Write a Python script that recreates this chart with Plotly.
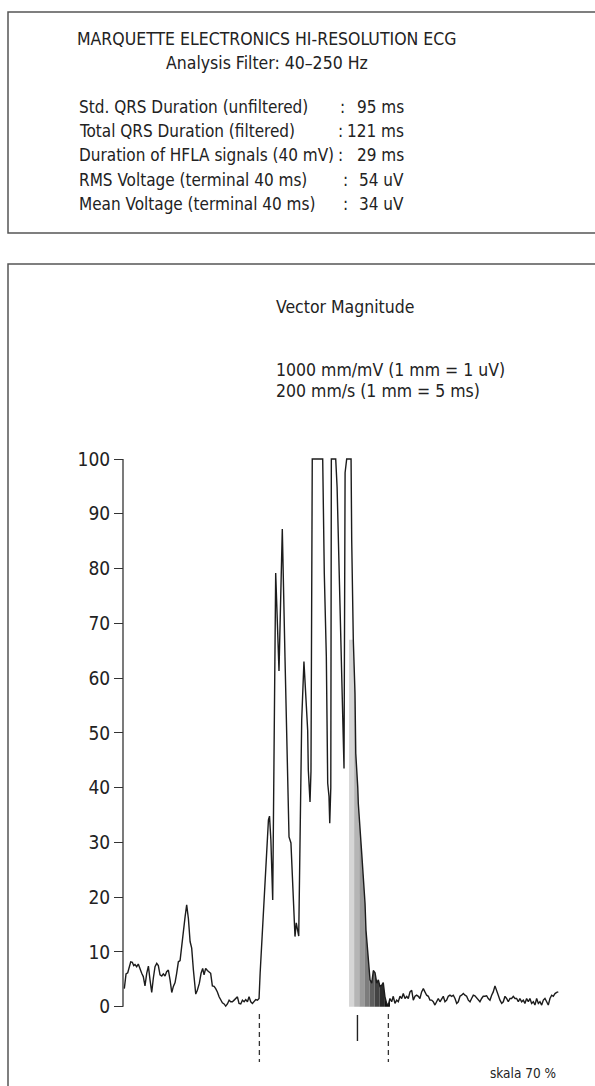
import numpy as np
import plotly.graph_objects as go

W, H = 595, 1086
FONT = "Noto Sans Condensed, DejaVu Sans Condensed, Roboto, sans-serif"

# ---------------- data ----------------
header_title = "MARQUETTE ELECTRONICS HI-RESOLUTION ECG"
header_sub = "Analysis Filter: 40–250 Hz"
stat_labels = [
    "Std. QRS Duration (unfiltered)",
    "Total QRS Duration (filtered)",
    "Duration of HFLA signals (40 mV)",
    "RMS Voltage (terminal 40 ms)",
    "Mean Voltage (terminal 40 ms)",
]
stat_values = ["95 ms", "121 ms", "29 ms", "54 uV", "34 uV"]

plot_title = "Vector Magnitude"
scale_lines = ["1000 mm/mV (1 mm = 1 uV)", "200 mm/s (1 mm = 5 ms)"]
footnote = "skala 70 %"

# time (ms) and vector magnitude (uV), values clipped at 100 as in the print
t_ms = [
    0.3, 1.9, 3.5, 4.7, 6.3, 7.8, 9.1, 10.3, 11.9, 13.4, 15.0, 16.6, 18.1, 19.7,
    21.3, 22.9, 24.4, 26.0, 27.5, 29.1, 30.7, 32.2, 33.8, 35.4, 36.9, 38.5, 40.0,
    41.6, 43.2, 44.8, 46.3, 47.9, 49.4, 51.0, 52.6, 54.1, 55.7, 57.3, 58.8, 60.4,
    62.0, 63.5, 65.1, 67.3, 68.8, 70.7, 72.3, 73.8, 75.1, 76.6, 78.2, 79.8, 81.3,
    82.9, 84.5, 86.0, 87.6, 89.2, 90.7, 92.3, 93.9, 95.4, 97.0, 98.6, 100.1, 101.7,
    103.3, 104.8, 106.4, 107.9, 109.5, 111.1, 112.7, 114.2, 115.8, 117.3, 118.9,
    120.5, 122.0, 123.6, 125.2, 126.7, 127.7, 129.3, 130.8, 132.4, 134.0, 135.5,
    136.5, 137.8, 139.5, 141.0, 142.3, 145.4, 148.5, 151.0, 152.6, 153.2, 154.8,
    156.6, 158.2, 160.4, 161.6, 162.6, 163.9, 166.7, 168.8, 172.3, 172.9, 174.5,
    175.4, 176.6, 186.4, 187.9, 189.8, 191.1, 192.3, 193.0, 194.0, 194.5, 198.6,
    199.9, 201.8, 203.6, 205.5, 206.4, 207.4, 208.9, 213.0, 213.6, 215.1, 216.7,
    217.4, 219.3, 219.8, 223.0, 226.1, 227.0, 228.6, 229.2, 230.8, 232.4, 233.9,
    235.5, 237.1, 238.6, 240.1, 241.7, 243.2, 244.8, 246.4, 247.9, 249.5,
    251.1, 252.6, 254.2, 255.8, 257.3, 258.9, 260.5, 262.0, 263.6, 265.2, 266.7,
    268.3, 269.9, 271.4, 273.0, 274.5, 276.1, 277.6, 279.2, 280.8, 282.3, 283.9,
    285.5, 287.0, 288.6, 290.1, 291.7, 293.3, 294.8, 296.4, 298.0, 299.5, 301.1,
    302.7, 304.2, 305.8, 307.4, 308.9, 310.5, 312.1, 313.6, 315.2, 316.7, 318.3,
    319.9, 321.4, 323.0, 324.6, 326.1, 327.7, 329.2, 330.8, 332.3, 333.9, 335.5,
    337.0, 338.6, 340.2, 341.7, 343.3, 344.9, 346.4, 348.0, 349.6, 351.1, 352.7,
    354.3, 355.8, 357.4, 358.9, 360.5, 362.1, 363.6, 365.2, 366.8, 368.3, 369.9,
    371.4, 373.0, 374.6, 376.1, 377.7, 379.3, 380.8, 382.4, 384.0, 385.5, 387.1,
    388.7, 390.2, 391.8, 393.4, 394.9, 396.5, 398.0, 399.6, 401.2, 402.7, 404.3,
    405.9, 407.4,
]
v_uv = [
    3.3, 6.0, 6.2, 7.1, 8.2, 8.1, 7.5, 7.7, 7.3, 7.8, 6.7, 6.1, 5.5, 3.8,
    6.1, 7.4, 4.9, 2.6, 5.2, 7.3, 7.9, 7.5, 5.8, 5.6, 6.0, 5.6, 6.4,
    6.7, 4.9, 2.6, 3.7, 4.4, 6.1, 8.2, 8.4, 11.3, 14.0, 16.4, 18.6, 16.1,
    11.9, 10.7, 6.7, 2.3, 3.0, 4.3, 6.1, 7.0, 5.8, 7.0, 6.6, 6.4, 6.1,
    3.8, 3.7, 3.3, 2.7, 1.8, 1.2, 0.7, 0.5, 0.1, 0.5, 1.2, 0.9, 0.9,
    1.2, 1.5, 1.8, 0.6, 0.5, 1.2, 0.9, 1.3, 0.9, 1.8, 0.9,
    0.6, 0.9, 1.3, 1.2, 1.5, 6.1, 12.2, 16.7, 21.9, 30.4, 34.1,
    34.8, 30.4, 19.5, 55.0, 79.2, 61.3, 87.2, 63.9, 50.5, 39.6, 31.0,
    29.9, 23.1, 12.8, 15.3, 14.5, 12.9, 52.3, 63.0, 50.5, 43.2, 37.4,
    43.0, 100, 100, 79.1, 63.9, 40.8, 38.4, 33.5, 40.0, 100, 100,
    94.9, 77.9, 63.0, 50.5, 43.5, 97.5, 100, 100, 85.2, 67.0, 57.2,
    46.3, 40.0, 37.1, 28.0, 18.9, 14.0, 9.7, 9.1, 4.9, 4.3, 6.6,
    6.2, 4.3, 4.9, 3.7, 3.9, 4.4, 1.8, 0.6, 0.3, 1.5,
    0.9, 1.9, 0.6, 1.2, 0.9, 1.9, 1.5, 2.4, 1.5, 1.9, 1.5,
    2.7, 3.0, 1.2, 1.9, 2.1, 1.9, 1.5, 2.7, 3.3, 2.7, 2.1,
    1.9, 1.2, 1.2, 0.9, 0.3, 0.9, 1.5, 0.9, 1.5, 1.9, 0.9,
    1.2, 1.9, 2.1, 1.9, 2.1, 1.5, 0.6, 0.9, 1.9, 2.1, 2.4,
    2.1, 1.9, 1.2, 0.9, 1.5, 2.1, 2.0, 1.6, 1.2, 0.9, 1.5,
    1.9, 1.9, 2.0, 1.5, 1.2, 2.1, 2.7, 3.8, 2.7, 2.1, 1.2,
    0.6, 0.9, 1.9, 1.5, 0.9, 1.5, 1.5, 1.9, 1.5, 1.5, 0.9,
    1.5, 0.9, 1.2, 0.6, 1.5, 0.9, 1.5, 0.6, 0.9, 0.3, 1.5,
    0.6, 0.9, 0.3, 1.2, 1.5, 0.9, 0.3, 1.5, 2.1, 1.9, 2.4,
    2.6, 2.7,
]

qrs_onset_ms = 127.0
qrs_total_ms = 121.0
hfla_ms = 29.0
shade_span_ms = [211.1, 249.5]      # terminal 40 ms shading as printed
y_ticks = [0, 10, 20, 30, 40, 50, 60, 70, 80, 90, 100]
band_colors = ["#d6d6d6", "#b5b5b5", "#9a9a9a", "#7c7c7c",
               "#5e5e5e", "#434343", "#2a2a2a", "#0e0e0e"]
fill_cap = 67.0

# ---------------- geometry ----------------
PX_PER_MS = 1.066
X0_PX = 124.0          # t = 0
PX_PER_UV = 5.477
Y0_PX = 1006.7         # 0 uV
AXIS_X_PX = 123.0
COLON_X = [343, 340, 340, 345, 345]


def xp(px):
    return px / W


def yp(py):
    return 1 - py / H


x_range = [(0 - X0_PX) / PX_PER_MS, (W - X0_PX) / PX_PER_MS]
y_range = [(Y0_PX - H) / PX_PER_UV, Y0_PX / PX_PER_UV]

fig = go.Figure()

# terminal shaded bands
t_arr = np.array(t_ms)
v_arr = np.array(v_uv)
qrs_offset = qrs_onset_ms + qrs_total_ms
s0, s1 = shade_span_ms
band_w = (s1 - s0) / len(band_colors)
for i, col in enumerate(band_colors):
    a = s0 + i * band_w
    b = a + band_w
    inner = t_arr[(t_arr > a) & (t_arr < b)]
    top_t = np.concatenate([[a], inner, [b]])
    top_v = np.minimum(np.interp(top_t, t_arr, v_arr), fill_cap)
    xs = np.concatenate([[a], top_t, [b]])
    ys = np.concatenate([[0], top_v, [0]])
    fig.add_trace(go.Scatter(x=xs, y=ys, mode="lines", fill="toself",
                             fillcolor=col, line=dict(width=0, color=col),
                             hoverinfo="skip", showlegend=False))

fig.add_trace(go.Scatter(x=t_ms, y=v_uv, mode="lines",
                         line=dict(color="#1c1c1c", width=1.4),
                         hoverinfo="skip", showlegend=False))

shapes = []
# boxes
shapes.append(dict(type="rect", xref="paper", yref="paper",
                   x0=xp(8), x1=xp(640), y0=yp(12), y1=yp(233),
                   line=dict(color="#555555", width=1.5)))
shapes.append(dict(type="rect", xref="paper", yref="paper",
                   x0=xp(8), x1=xp(640), y0=yp(264), y1=yp(1140),
                   line=dict(color="#555555", width=1.5)))
# y axis line 0..100
shapes.append(dict(type="line", xref="paper", yref="y",
                   x0=xp(AXIS_X_PX), x1=xp(AXIS_X_PX), y0=0, y1=100,
                   line=dict(color="#333333", width=1.3)))
# markers: QRS onset / offset (dashed), HFLA start (solid)
for xv in [qrs_onset_ms, qrs_offset]:
    shapes.append(dict(type="line", xref="x", yref="paper",
                       x0=xv, x1=xv, y0=yp(1014), y1=yp(1062),
                       line=dict(color="#333333", width=1.3, dash="5px,4px")))
shapes.append(dict(type="line", xref="x", yref="paper",
                   x0=qrs_offset - hfla_ms, x1=qrs_offset - hfla_ms,
                   y0=yp(1015), y1=yp(1041),
                   line=dict(color="#222222", width=1.4)))

ann = []


def text(s, x, y, size=17, anchor="left"):
    ann.append(dict(text=s, x=xp(x), y=yp(y), xref="paper", yref="paper",
                    xanchor=anchor, yanchor="middle", showarrow=False,
                    font=dict(family=FONT, size=size, color="#222222")))


text(header_title, 266, 39, size=17.5, anchor="center")
text(header_sub, 267, 63, size=17.5, anchor="center")
row_y = [107, 131, 155, 180, 204]
for lab, val, yy, cx in zip(stat_labels, stat_values, row_y, COLON_X):
    text(lab, 77, yy)
    text(":", cx, yy, anchor="center")
    text(val, 406, yy, anchor="right")

text(plot_title, 274, 307, size=17.5)
text(scale_lines[0], 274, 370, size=17.5)
text(scale_lines[1], 274, 391, size=17.5)
text(footnote, 558, 1073, size=13.5, anchor="right")

fig.update_layout(
    width=W, height=H,
    margin=dict(l=0, r=0, t=0, b=0),
    paper_bgcolor="white", plot_bgcolor="white",
    showlegend=False,
    shapes=shapes, annotations=ann,
    xaxis=dict(domain=[0, 1], range=x_range, visible=False, fixedrange=True),
    yaxis=dict(domain=[0, 1], range=y_range, anchor="free",
               position=xp(AXIS_X_PX), tickvals=y_ticks, ticks="outside",
               ticklen=9, tickwidth=1.3, tickcolor="#333333",
               showline=False, showgrid=False, zeroline=False,
               tickfont=dict(family=FONT, size=19, color="#222222"),
               fixedrange=True),
)

fig.write_html("out.html",
               config={"displayModeBar": False},
               post_script="document.body.style.margin='0';document.body.style.padding='0';")
